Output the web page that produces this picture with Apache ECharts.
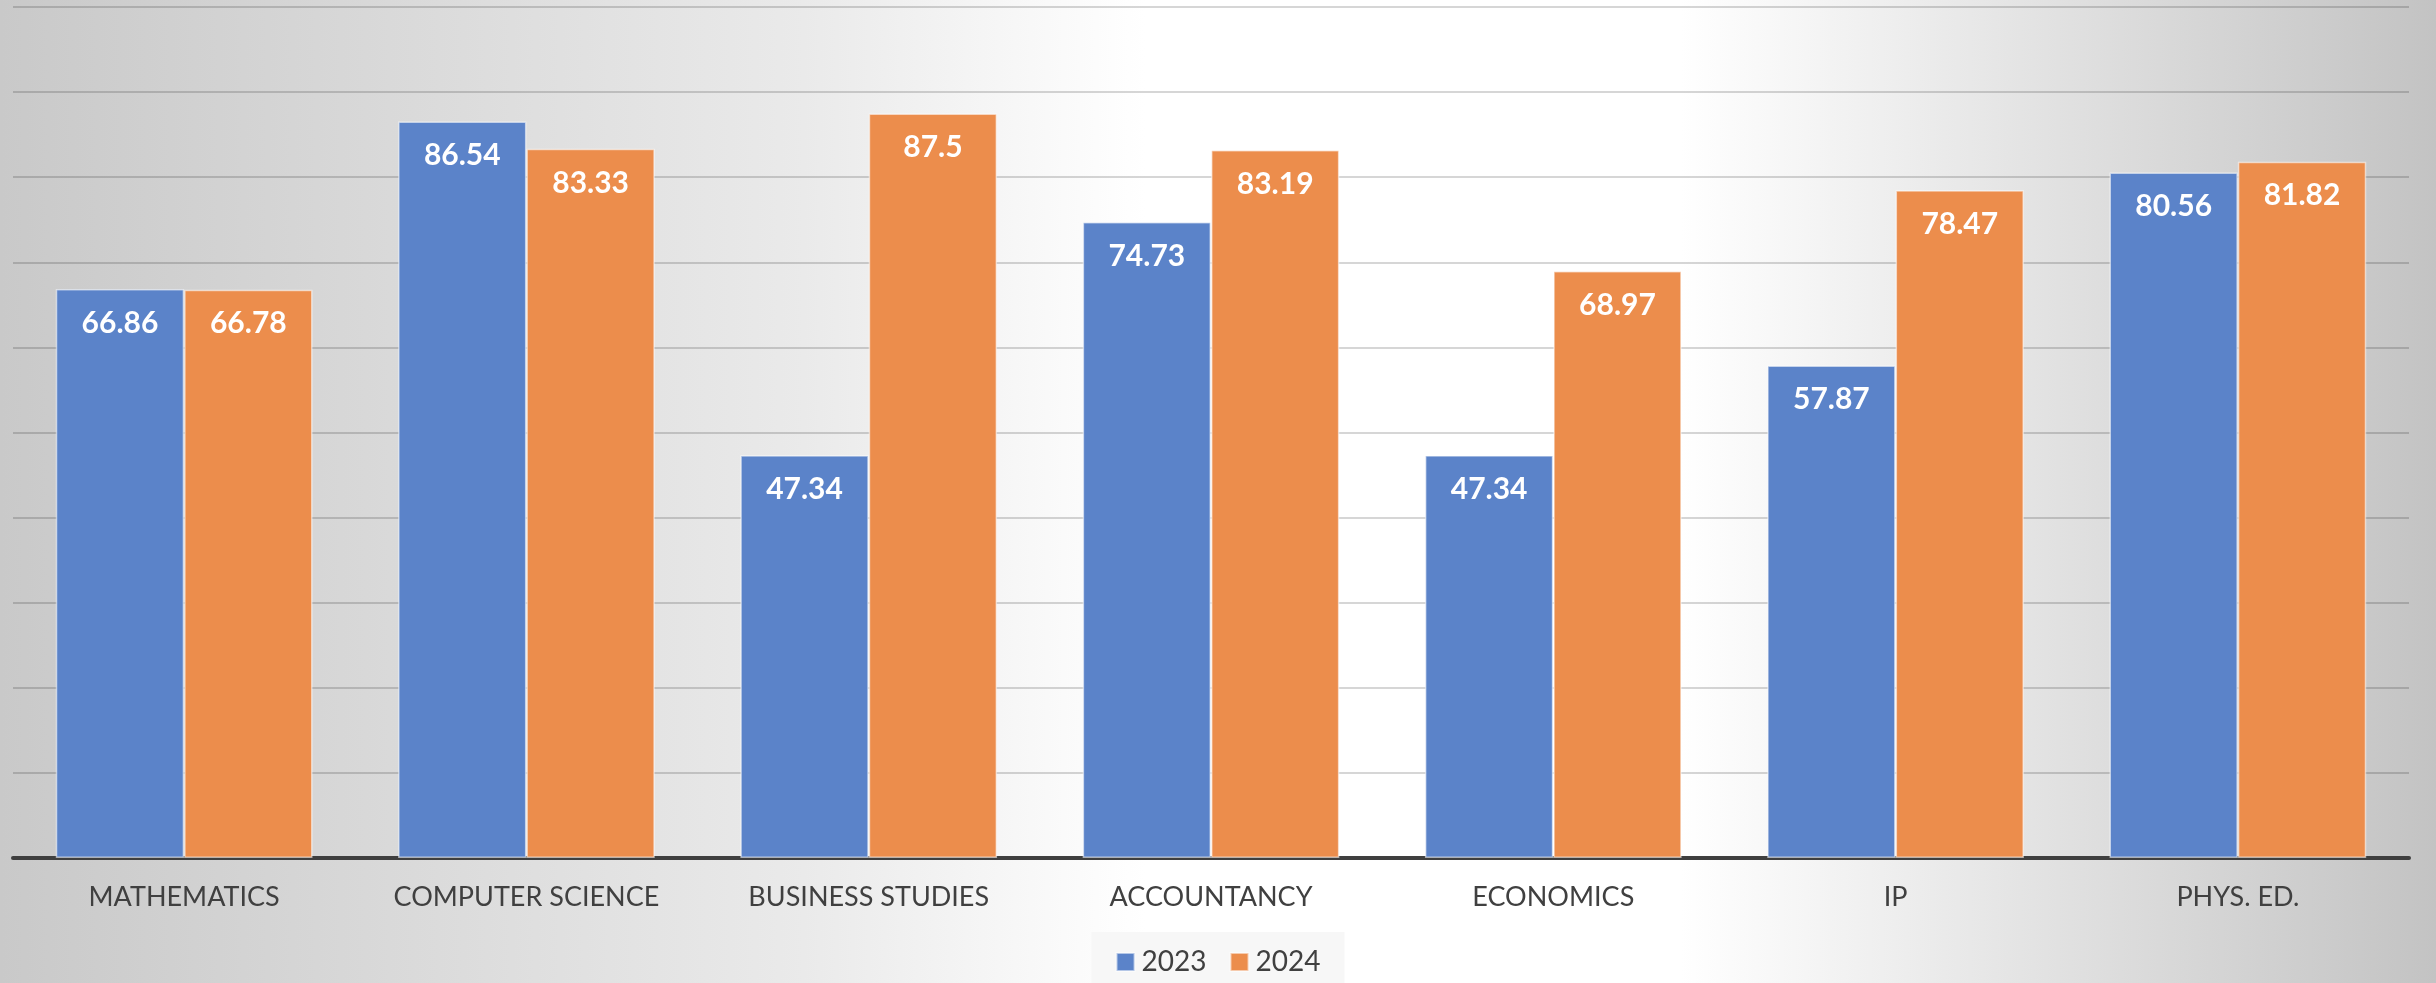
<!DOCTYPE html>
<html>
<head>
<meta charset="utf-8">
<script src="https://cdn.jsdelivr.net/npm/echarts@6/dist/echarts.min.js"></script>
<style>
  html, body { margin: 0; padding: 0; }
  #chart { width: 2436px; height: 983px; }
</style>
</head>
<body>
<div id="chart"></div>
<script>
// data
const subjects = ["MATHEMATICS", "COMPUTER SCIENCE", "BUSINESS STUDIES", "ACCOUNTANCY", "ECONOMICS", "IP", "PHYS. ED."];
const years = ["2023", "2024"];
const values2023 = [66.86, 86.54, 47.34, 74.73, 47.34, 57.87, 80.56];
const values2024 = [66.78, 83.33, 87.5, 83.19, 68.97, 78.47, 81.82];

const chart = echarts.init(document.getElementById("chart"));

// white-ish band in the middle, grey to the sides
const bg = {
  type: "linear", x: 0, y: 0, x2: 1, y2: 0,
  colorStops: [
    { offset: 0, color: "#c9c9c9" },
    { offset: 0.33, color: "#eaeaea" },
    { offset: 0.47, color: "#ffffff" },
    { offset: 0.69, color: "#ffffff" },
    { offset: 1, color: "#c3c3c3" }
  ]
};

const barLabel = {
  show: true,
  position: "insideTop",
  distance: 19,
  color: "#ffffff",
  fontFamily: "Lato",
  fontWeight: "bold",
  fontSize: 30
};

const option = {
  backgroundColor: bg,
  animation: false,
  grid: { left: 13, right: 27, top: 7, bottom: 125 },
  legend: {
    data: years,
    left: "center",
    top: 932,
    padding: [16, 24, 30, 24],
    backgroundColor: "#f7f7f7",
    itemWidth: 18,
    itemHeight: 18,
    itemGap: 23,
    icon: "rect",
    textStyle: { color: "#404040", fontFamily: "Lato", fontSize: 28, padding: [0, 0, 0, 2] }
  },
  xAxis: {
    type: "category",
    data: subjects,
    axisTick: { show: false },
    axisLine: { lineStyle: { color: "#3f3f3f", width: 4 } },
    axisLabel: { interval: 0, color: "#404040", fontFamily: "Lato", fontSize: 27, margin: 26 }
  },
  yAxis: {
    type: "value",
    min: 0,
    max: 100,
    interval: 10,
    axisLabel: { show: false },
    axisLine: { show: false },
    axisTick: { show: false },
    splitLine: { lineStyle: { color: "rgba(0,0,0,0.16)", width: 2 } }
  },
  series: [
    {
      name: years[0],
      type: "bar",
      data: values2023,
      barGap: "0%",
      barCategoryGap: "25%",
      itemStyle: { color: "#5b83c9", borderColor: "rgba(255,255,255,0.55)", borderWidth: 1.5 },
      label: barLabel
    },
    {
      name: years[1],
      type: "bar",
      data: values2024,
      barGap: "0%",
      barCategoryGap: "25%",
      itemStyle: { color: "#ec8d4c", borderColor: "rgba(255,255,255,0.55)", borderWidth: 1.5 },
      label: barLabel
    }
  ]
};

chart.setOption(option);
window.addEventListener("resize", () => {
  chart.resize();
});
</script>
</body>
</html>
